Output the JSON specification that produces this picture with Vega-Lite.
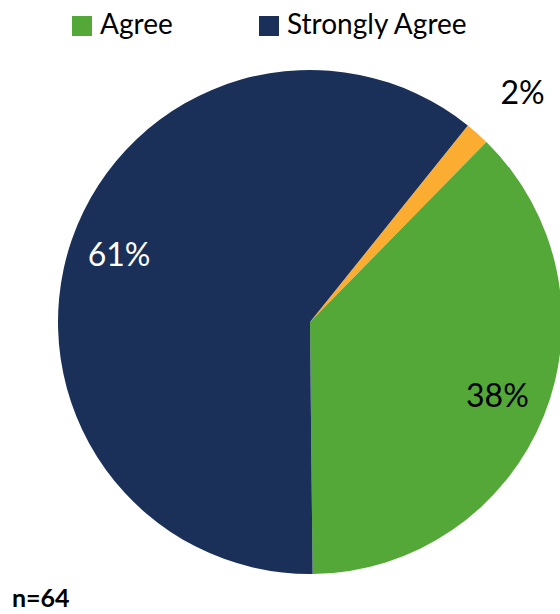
{
  "$schema": "https://vega.github.io/schema/vega-lite/v6.json",
  "autosize": {"type": "none"},
  "width": 500,
  "height": 504,
  "padding": {"left": 60, "top": 70, "right": 0, "bottom": 40},
  "background": "white",
  "config": {"view": {"stroke": null}, "font": "Lato"},
  "title": {"text": "n=64", "orient": "bottom", "anchor": "start", "frame": "group", "dx": -48, "offset": 13, "fontSize": 25, "fontWeight": "bold", "color": "#000000", "font": "Lato"},
  "data": {"values": [
    {"cat": "Neutral", "n": 1, "ord": 1, "inner": "", "outer": "2%"},
    {"cat": "Agree", "n": 24, "ord": 2, "inner": "38%", "outer": ""},
    {"cat": "Strongly Agree", "n": 39, "ord": 3, "inner": "61%", "outer": ""}
  ]},
  "encoding": {
    "theta": {"field": "n", "type": "quantitative", "stack": true, "scale": {"range": [0.677, 6.960]}},
    "order": {"field": "ord", "type": "quantitative"}
  },
  "layer": [
    {
      "mark": {"type": "arc", "outerRadius": 252},
      "encoding": {
        "color": {"field": "cat", "type": "nominal",
          "scale": {"domain": ["Neutral", "Agree", "Strongly Agree"], "range": ["#FBAD32", "#53A838", "#1A3059"]},
          "legend": {"values": ["Agree", "Strongly Agree"], "orient": "none", "direction": "horizontal", "legendX": 8, "legendY": -58, "title": null, "symbolType": "square", "symbolSize": 400, "symbolStrokeWidth": 0, "labelFontSize": 28, "labelFont": "Lato", "labelColor": "#000000", "labelLimit": 400, "columnPadding": 82, "labelOffset": 4}
        }
      }
    },
    {
      "mark": {"type": "text", "radius": 202, "fontSize": 32, "font": "Lato", "baseline": "middle", "align": "center"},
      "encoding": {
        "text": {"field": "inner"},
        "color": {"condition": {"test": "datum.cat == 'Strongly Agree'", "value": "#FFFFFF"}, "value": "#000000"}
      }
    },
    {
      "mark": {"type": "text", "radius": 305, "fontSize": 32, "font": "Lato", "baseline": "middle", "align": "center", "dx": 10, "color": "#000000"},
      "encoding": {"text": {"field": "outer"}}
    }
  ]
}
